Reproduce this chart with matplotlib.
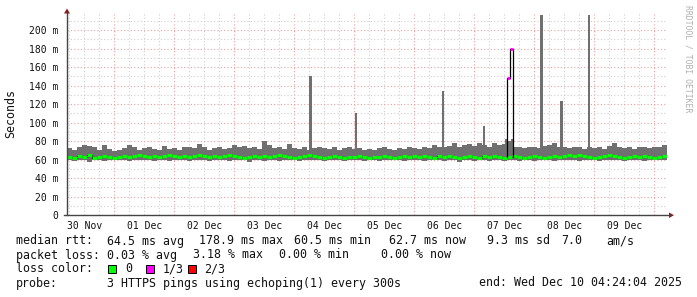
import matplotlib
matplotlib.use('Agg')
import matplotlib.pyplot as plt
from matplotlib.patches import Rectangle, Polygon
from matplotlib.lines import Line2D
import numpy as np

# ---------------- data (hours since graph start, 2 h consolidation) ----------------
step_hours = 2.0
smoke_hi = [72, 70, 73, 76, 75, 74, 70, 76, 71, 69,
            70, 72, 76, 73, 70, 72, 74, 71, 70, 75,
            71, 72, 70, 73, 74, 72, 77, 73, 70, 72,
            74, 71, 72, 76, 73, 75, 72, 74, 71, 80,
            76, 72, 73, 71, 77, 72, 71, 73, 70, 72,
            73, 72, 71, 74, 70, 72, 73, 71, 72, 70,
            71, 70, 72, 73, 71, 70, 72, 71, 73, 72,
            71, 73, 72, 76, 74, 73, 75, 78, 74, 76,
            77, 75, 78, 76, 74, 78, 76, 77, 80, 74,
            73, 72, 74, 73, 72, 75, 76, 78, 74, 73,
            72, 74, 73, 71, 74, 72, 73, 71, 75, 78,
            74, 72, 73, 71, 74, 73, 72, 74, 73, 76]
smoke_lo = [59, 58, 60, 59, 57, 60, 59, 58, 60, 59,
            60, 59, 58, 60, 59, 60, 59, 58, 60, 59,
            58, 60, 59, 60, 58, 59, 60, 59, 58, 60,
            59, 60, 58, 59, 60, 59, 57, 60, 59, 58,
            59, 60, 58, 59, 60, 59, 58, 60, 59, 60,
            59, 58, 60, 59, 60, 58, 59, 60, 59, 58,
            60, 59, 58, 60, 59, 60, 59, 58, 60, 59,
            60, 58, 59, 60, 59, 58, 60, 59, 57, 60,
            59, 58, 60, 59, 58, 60, 59, 58, 60, 59,
            58, 60, 59, 58, 60, 59, 60, 58, 59, 60,
            59, 60, 58, 59, 60, 59, 58, 60, 59, 60,
            59, 58, 60, 59, 60, 58, 59, 60, 59, 60]
median = [63, 62, 64, 63, 65, 62, 63, 64, 63, 62,
          63, 64, 63, 64, 65, 64, 63, 64, 63, 64,
          65, 64, 63, 64, 63, 64, 65, 64, 63, 64,
          63, 64, 65, 64, 63, 62, 63, 64, 63, 64,
          63, 64, 65, 64, 63, 62, 63, 64, 65, 64,
          63, 62, 63, 64, 63, 62, 63, 63, 64, 63,
          62, 63, 63, 64, 63, 62, 63, 64, 63, 64,
          63, 64, 63, 62, 64, 63, 64, 63, 62, 63,
          64, 63, 62, 64, 63, 64, 63, 62, 63, 64,
          63, 62, 63, 64, 63, 62, 63, 64, 63, 64,
          65, 64, 65, 64, 63, 62, 63, 64, 65, 64,
          63, 62, 63, 64, 63, 64, 63, 62, 63, 64]

spike_hours = [96.8, 115.2, 150.0, 166.4, 175.2, 177.6, 189.2, 197.2, 208.4]
spike_width = [1.2, 0.8, 0.8, 0.8, 0.6, 0.6, 1.2, 1.2, 0.8]
spike_tops = [150, 110, 134, 96, 82, 82, 216, 123, 216]

loss_hours = [176.1, 177.0]
loss_width = [0.9, 1.2]
loss_median = [148, 179]

day_labels = ['30 Nov', '01 Dec', '02 Dec', '03 Dec', '04 Dec',
              '05 Dec', '06 Dec', '07 Dec', '08 Dec', '09 Dec']
y_ticks = [0, 20, 40, 60, 80, 100, 120, 140, 160, 180, 200]
first_midnight = 18.9

loss_colors = ['#00ff00', '#ff00ff', '#ff0000']
loss_names = ['0', '1/3', '2/3']

# ---------------- figure ----------------
W, H = 697, 297
fig = plt.figure(figsize=(W / 100, H / 100), dpi=100)
fig.patch.set_facecolor('white')
ax = fig.add_axes([67 / W, 82 / H, 600 / W, 202 / H])
ax.set_facecolor('white')
ax.set_xlim(0, 240)
ax.set_ylim(0, 218.4)
mono = 'DejaVu Sans Mono'

# grid
dot = (0, (1, 2))
for h in np.arange(0.9, 240.5, 6):
    if abs(((h - first_midnight) / 24) - round((h - first_midnight) / 24)) < 1e-6:
        ax.axvline(h, color='#e8a0a0', lw=0.8, ls=dot, zorder=0)
    else:
        ax.axvline(h, color='#cfcfcf', lw=0.8, ls=dot, zorder=0)
for v in range(10, 219, 10):
    if v % 20 == 0:
        ax.axhline(v, color='#e8a0a0', lw=0.8, ls=dot, zorder=0)
    else:
        ax.axhline(v, color='#cfcfcf', lw=0.8, ls=dot, zorder=0)

# smoke
hours = np.arange(len(smoke_hi)) * step_hours
hi = np.array(smoke_hi, float)
lo = np.array(smoke_lo, float)
ax.bar(hours, hi - lo, bottom=lo, width=step_hours, align='edge',
       color='#707070', linewidth=0, zorder=2)
ax.bar(spike_hours, np.array(spike_tops) - 60, bottom=60, width=spike_width,
       align='edge', color='#707070', linewidth=0, zorder=2)

# median line: black step with green horizontal parts
med = np.array(median, float)
xs = np.append(hours, 240)
ys = np.append(med, med[-1])
ax.step(xs, ys, where='post', color='black', lw=0.8, zorder=3)
ax.hlines(med, hours, hours + step_hours, color=loss_colors[0], lw=2.2, zorder=4)

# loss event
lx = [loss_hours[0], loss_hours[0], loss_hours[1], loss_hours[1],
      loss_hours[1] + loss_width[1], loss_hours[1] + loss_width[1]]
ly = [63, loss_median[0], loss_median[0], loss_median[1], loss_median[1], 63]
ax.plot(lx, ly, color='black', lw=0.9, zorder=5)
for h0, w0, m0 in zip(loss_hours, loss_width, loss_median):
    ax.hlines(m0, h0, h0 + w0, color=loss_colors[1], lw=2.0, zorder=6)

# axes / ticks
for s in ['top', 'right', 'left', 'bottom']:
    ax.spines[s].set_visible(False)
ax.set_yticks(y_ticks)
ax.set_yticklabels(['0' if v == 0 else f'{v} m' for v in y_ticks],
                   family=mono, fontsize=7, color='#111111')
ax.set_xticks([first_midnight - 12 + 24 * k for k in range(len(day_labels))])
ax.set_xticklabels(day_labels, family=mono, fontsize=7, color='#111111')
ax.tick_params(axis='y', length=0, pad=6)
ax.tick_params(axis='x', length=0, pad=4)

def fx(x):
    return x / W

def fy(y):
    return (H - y) / H

axis_col = '#444444'
fig.add_artist(Line2D([fx(67), fx(67)], [fy(215), fy(12)], color=axis_col, lw=1.0))
fig.add_artist(Line2D([fx(64), fx(670)], [fy(215), fy(215)], color=axis_col, lw=1.0))
arrow_col = '#8b1a1a'
fig.add_artist(Polygon([[fx(64), fy(13.5)], [fx(70), fy(13.5)], [fx(67), fy(8.5)]],
                       closed=True, color=arrow_col, lw=0))
fig.add_artist(Polygon([[fx(669), fy(212.5)], [fx(669), fy(218)], [fx(674), fy(215.2)]],
                       closed=True, color=arrow_col, lw=0))

# y label and watermark
fig.text(fx(11), fy(114), 'Seconds', rotation=90, family=mono, fontsize=8.4,
         ha='center', va='center', color='#111111')
fig.text(fx(688), fy(59), 'RRDTOOL / TOBI OETIKER', rotation=270, family=mono,
         fontsize=5.9, ha='center', va='center', color='#b0b0b0')

# legend
fs = 8.4
def t(x, y, s):
    fig.text(fx(x), fy(y), s, family=mono, fontsize=fs, ha='left', va='center', color='#111111')

y1, y2, y3, y4 = 241, 255, 269, 283
t(16, y1, 'median rtt:')
t(107.3, y1, '64.5 ms avg')
t(198.7, y1, '178.9 ms max')
t(294, y1, '60.5 ms min')
t(389.3, y1, '62.7 ms now')
t(486.7, y1, '9.3 ms sd')
t(561.3, y1, '7.0')
t(606.7, y1, 'am/s')

t(16, y2, 'packet loss:')
t(107.3, y2, '0.03 % avg')
t(193.3, y2, '3.18 % max')
t(279.3, y2, '0.00 % min')
t(380.7, y2, '0.00 % now')

t(16, y3, 'loss color:')
for bx, tx, c, name in zip([108.3, 145.7, 188.3], [125, 162.7, 204], loss_colors, loss_names):
    fig.add_artist(Rectangle((fx(bx), fy(272.7)), 8 / W, 7.4 / H, facecolor=c,
                             edgecolor='black', lw=0.7))
    t(tx, y3, name)

t(16, y4, 'probe:')
t(107.3, y4, '3 HTTPS pings using echoping(1) every 300s')
t(478.7, y4, 'end: Wed Dec 10 04:24:04 2025')

fig.savefig('out.png', dpi=100, facecolor='white')
